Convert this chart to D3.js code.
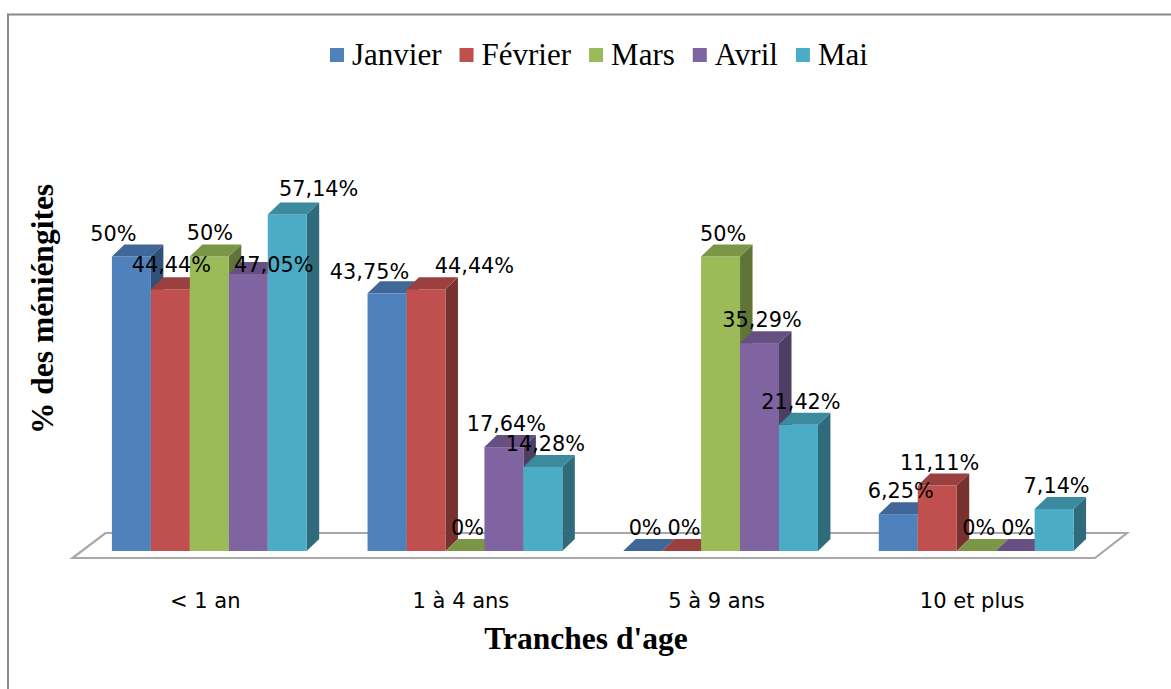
<!DOCTYPE html>
<html><head><meta charset="utf-8">
<script src="https://cdn.jsdelivr.net/npm/d3@7"></script>
<style>html,body{margin:0;padding:0;background:#fff;}svg{display:block;}</style>
</head><body>
<script>
// ---- data ----
const categories = ["< 1 an", "1 à 4 ans", "5 à 9 ans", "10 et plus"];
const seriesNames = ["Janvier", "Février", "Mars", "Avril", "Mai"];
const janvier = [50, 43.75, 0, 6.25];
const fevrier = [44.44, 44.44, 0, 11.11];
const mars    = [50, 0, 50, 0];
const avril   = [47.05, 17.64, 35.29, 0];
const mai     = [57.14, 14.28, 21.42, 7.14];
const seriesValues = [janvier, fevrier, mars, avril, mai];
const colors = ["#4F81BD", "#C0504D", "#9BBB59", "#8064A2", "#4BACC6"];
const yAxisTitle = "% des méniéngites";
const xAxisTitle = "Tranches d'age";
// manual label nudges [dx, dy] per series per category (as in the original layout)
const labelNudge = [
  [[-20.5, 0], [-20, 1.5], [0, 0], [0, 0]],
  [[-1.5, -1], [46, 0], [0, 0], [0, 0]],
  [[-2, -1], [0, 0], [0, 0], [0, 0]],
  [[23, 14], [0, 0], [0, 0], [0, 0]],
  [[29, -2], [0, 0], [0, 0], [0, 0]]
];

const W = 1171, H = 689;
const svg = d3.select("body").append("svg").attr("width", W).attr("height", H);

// outer border
svg.append("rect").attr("x", 8).attr("y", 14.5).attr("width", 1300).attr("height", 800)
  .attr("fill", "none").attr("stroke", "#8a8a8a").attr("stroke-width", 2);

const baseY = 551;
const x0 = d3.scaleBand().domain(categories).range([81.5, 1104]).paddingInner(0.238).paddingOuter(0.119);
const x1 = d3.scaleBand().domain(seriesNames).range([0, x0.bandwidth()]);
const y = d3.scaleLinear().domain([0, 60]).range([baseY, baseY - 353.4]);
const dep = {dx: 12.5, dy: -12};

// floor
const fl = x0.range()[0], fr = x0.range()[1];
const floorPts = [[fl - 9, 558], [fr - 9, 558], [fr + 23, 533], [fl + 24, 533]];
svg.append("polygon").attr("points", floorPts.map(p => p.join(",")).join(" "))
  .attr("fill", "#fff").attr("stroke", "#a8a8a8").attr("stroke-width", 2.2).attr("stroke-linejoin", "miter");

function shade(c, k) { const r = d3.rgb(c); return d3.rgb(r.r * k, r.g * k, r.b * k).formatHex(); }

const bars = svg.append("g");
categories.forEach((cat, ci) => {
  seriesNames.forEach((s, si) => {
    const v = seriesValues[si][ci];
    const xl = x0(cat) + x1(s), xr = xl + x1.bandwidth();
    const yt = y(v), yb = y(0);
    const g = bars.append("g");
    g.append("polygon").attr("points", [[xr, yt], [xr + dep.dx, yt + dep.dy], [xr + dep.dx, yb + dep.dy], [xr, yb]].map(p => p.join(",")).join(" "))
      .attr("fill", shade(colors[si], 0.62));
    g.append("rect").attr("x", xl).attr("y", yt).attr("width", xr - xl).attr("height", Math.max(0, yb - yt))
      .attr("fill", colors[si]);
    g.append("polygon").attr("points", [[xl, yt], [xl + dep.dx, yt + dep.dy], [xr + dep.dx, yt + dep.dy], [xr, yt]].map(p => p.join(",")).join(" "))
      .attr("fill", shade(colors[si], 0.8));
  });
});

// data labels
const fmt = v => (Number.isInteger(v) ? String(v) : v.toFixed(2).replace(".", ",")) + "%";
const labels = svg.append("g").attr("font-family", "DejaVu Sans").attr("font-size", 20.8).attr("fill", "#000").attr("text-anchor", "middle");
categories.forEach((cat, ci) => {
  seriesNames.forEach((s, si) => {
    const v = seriesValues[si][ci];
    const cx = x0(cat) + x1(s) + x1.bandwidth() / 2 + 2.5;
    const [ndx, ndy] = labelNudge[si][ci];
    labels.append("text").attr("x", cx + ndx).attr("y", y(v) - 16 + ndy).text(fmt(v));
  });
});

// category labels
svg.append("g").attr("font-family", "DejaVu Sans").attr("font-size", 21).attr("text-anchor", "middle")
  .selectAll("text").data(categories).join("text")
  .attr("x", d => x0(d) + x0.bandwidth() / 2 - 4).attr("y", 608).text(d => d);

// axis titles
svg.append("text").attr("x", 586).attr("y", 649).attr("text-anchor", "middle")
  .attr("font-family", "Liberation Serif").attr("font-weight", "bold").attr("font-size", 31.5).text(xAxisTitle);
svg.append("text").attr("transform", "translate(53,309) rotate(-90)").attr("text-anchor", "middle")
  .attr("font-family", "Liberation Serif").attr("font-weight", "bold").attr("font-size", 31.5).text(yAxisTitle);

// legend
const leg = svg.append("g");
let lx = 330;
seriesNames.forEach((s, i) => {
  leg.append("rect").attr("x", lx).attr("y", 48).attr("width", 14).attr("height", 14).attr("fill", colors[i]);
  const t = leg.append("text").attr("x", lx + 22).attr("y", 65).attr("font-family", "Liberation Serif").attr("font-size", 31).text(s);
  lx += 22 + t.node().getComputedTextLength() + 18;
});
</script>
</body></html>
